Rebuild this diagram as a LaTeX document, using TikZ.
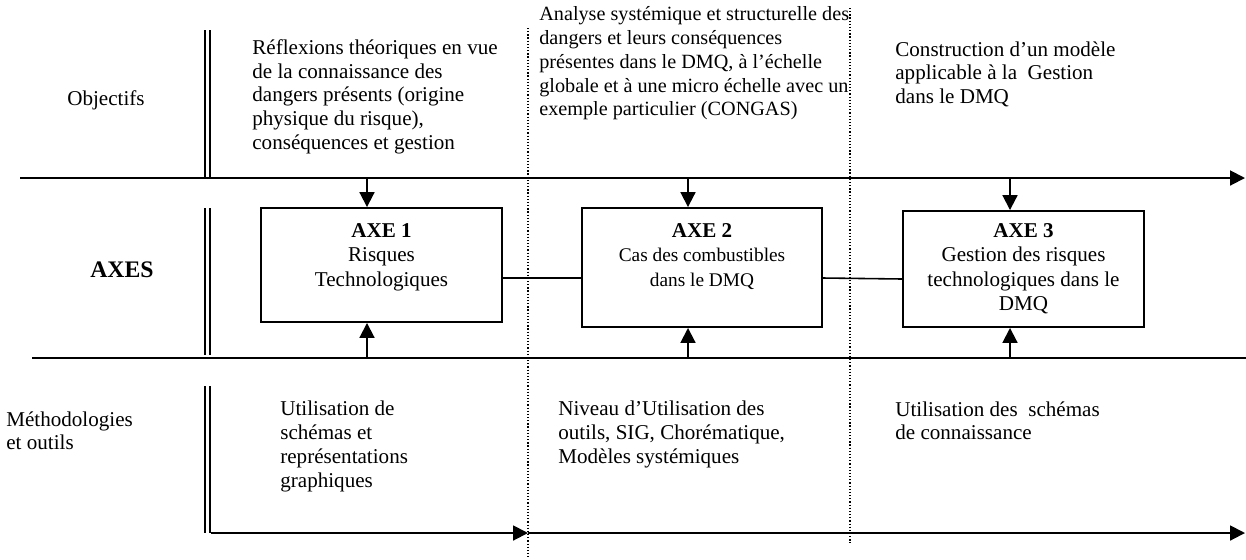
\documentclass[tikz,border=0pt]{standalone}
\usepackage{fontspec}
\setmainfont{Liberation Serif}
\usetikzlibrary{arrows.meta,positioning}
\tikzset{
  txt/.style={anchor=north west,inner sep=0pt,align=left,font=\fontsize{12}{13.6}\selectfont},
  boxtxt/.style={anchor=north,inner sep=0pt,align=center,font=\fontsize{12}{13.9}\selectfont},
  axebox/.style={draw,line width=1.1pt,inner sep=0pt},
  mainline/.style={line width=1.1pt},
  dblline/.style={double,double distance=1.7pt,line width=1pt},
  dotline/.style={line width=0.7pt,dash pattern=on 0.7pt off 1.1pt},
  >={Triangle[length=8.5pt,width=8.5pt]}
}
\begin{document}
\begin{tikzpicture}[x=0.02cm,y=-0.02cm]
\useasboundingbox (0,0) rectangle (1246,559);
\draw[dotline] (528,28) -- (528,559);
\draw[dotline] (850,8) -- (850,543);
\node[font=\fontsize{12}{13.6}\selectfont,inner sep=0pt] (obj) at (106,100) {Objectifs};
\node[font=\fontsize{13.5}{15}\selectfont\bfseries,inner sep=0pt] (axes) at (122,270) {AXES};
\node[txt] (meth) at (6,411) {Méthodologies\\et outils};
\node[txt] (obj1) at (252,39) {Réflexions théoriques en vue\\de la connaissance des\\dangers présents (origine\\physique du risque),\\conséquences et gestion};
\node[txt,font=\fontsize{11.5}{13.6}\selectfont] (obj2) at (539,6) {Analyse systémique et structurelle des\\dangers et leurs conséquences\\présentes dans le DMQ, à l’échelle\\globale et à une micro échelle avec un\\exemple particulier (CONGAS)};
\node[txt] (obj3) at (895,41) {Construction d’un modèle\\applicable à la~ Gestion\\dans le DMQ};
\node[txt] (meth1) at (280,401) {Utilisation de\\schémas et\\représentations\\graphiques};
\node[txt] (meth2) at (558,401) {Niveau d’Utilisation des\\outils, SIG, Chorématique,\\Modèles systémiques};
\node[txt] (meth3) at (895,401) {Utilisation des~ schémas\\de connaissance};
\draw[dblline] (207.5,30) -- (207.5,178);
\draw[dblline] (207.5,208) -- (207.5,355);
\draw[dblline] (207.5,386) -- (207.5,533);
\coordinate (topL) at (20,178);
\coordinate (topR) at (1245,178);
\coordinate (midL) at (32,358);
\coordinate (midR) at (1246,358);
\coordinate (botL) at (211,533);
\coordinate (botM) at (528,533);
\coordinate (botR) at (1245,533);
\draw[mainline,->] (topL) -- (topR);
\draw[mainline] (midL) -- (midR);
\draw[mainline,->] (botL) -- (botM);
\draw[mainline,->] (botM) -- (botR);
\node[axebox,minimum width=4.82cm,minimum height=2.28cm] (axe1) at (381.5,265) {};
\node[axebox,minimum width=4.8cm,minimum height=2.38cm] (axe2) at (702,267.5) {};
\node[axebox,minimum width=4.82cm,minimum height=2.32cm] (axe3) at (1023.5,269) {};
\node[boxtxt,below=0.32cm of axe1.north] (axe1t) {\textbf{AXE 1}\\Risques\\Technologiques};
\node[boxtxt,below=0.32cm of axe2.north] (axe2t) {\textbf{AXE 2}\\{\fontsize{11}{12.6}\selectfont Cas des combustibles}\\{\fontsize{11}{12.6}\selectfont dans le DMQ}};
\node[boxtxt,below=0.26cm of axe3.north] (axe3t) {\textbf{AXE 3}\\Gestion des risques\\technologiques dans le\\DMQ};
\draw[line width=0.9pt] ([yshift=-0.26cm]axe1.east) -- ([yshift=-0.21cm]axe2.west);
\draw[line width=0.9pt] ([yshift=-0.21cm]axe2.east) -- ([yshift=-0.2cm]axe3.west);
\coordinate (d1) at (367,178);
\coordinate (d2) at (688,178);
\coordinate (d3) at (1010,178);
\coordinate (u1) at (367,358);
\coordinate (u2) at (688,358);
\coordinate (u3) at (1010,358);
\draw[mainline,->] (d1) -- (d1 |- axe1.north);
\draw[mainline,->] (d2) -- (d2 |- axe2.north);
\draw[mainline,->] (d3) -- (d3 |- axe3.north);
\draw[mainline,->] (u1) -- (u1 |- axe1.south);
\draw[mainline,->] (u2) -- (u2 |- axe2.south);
\draw[mainline,->] (u3) -- (u3 |- axe3.south);
\end{tikzpicture}
\end{document}
